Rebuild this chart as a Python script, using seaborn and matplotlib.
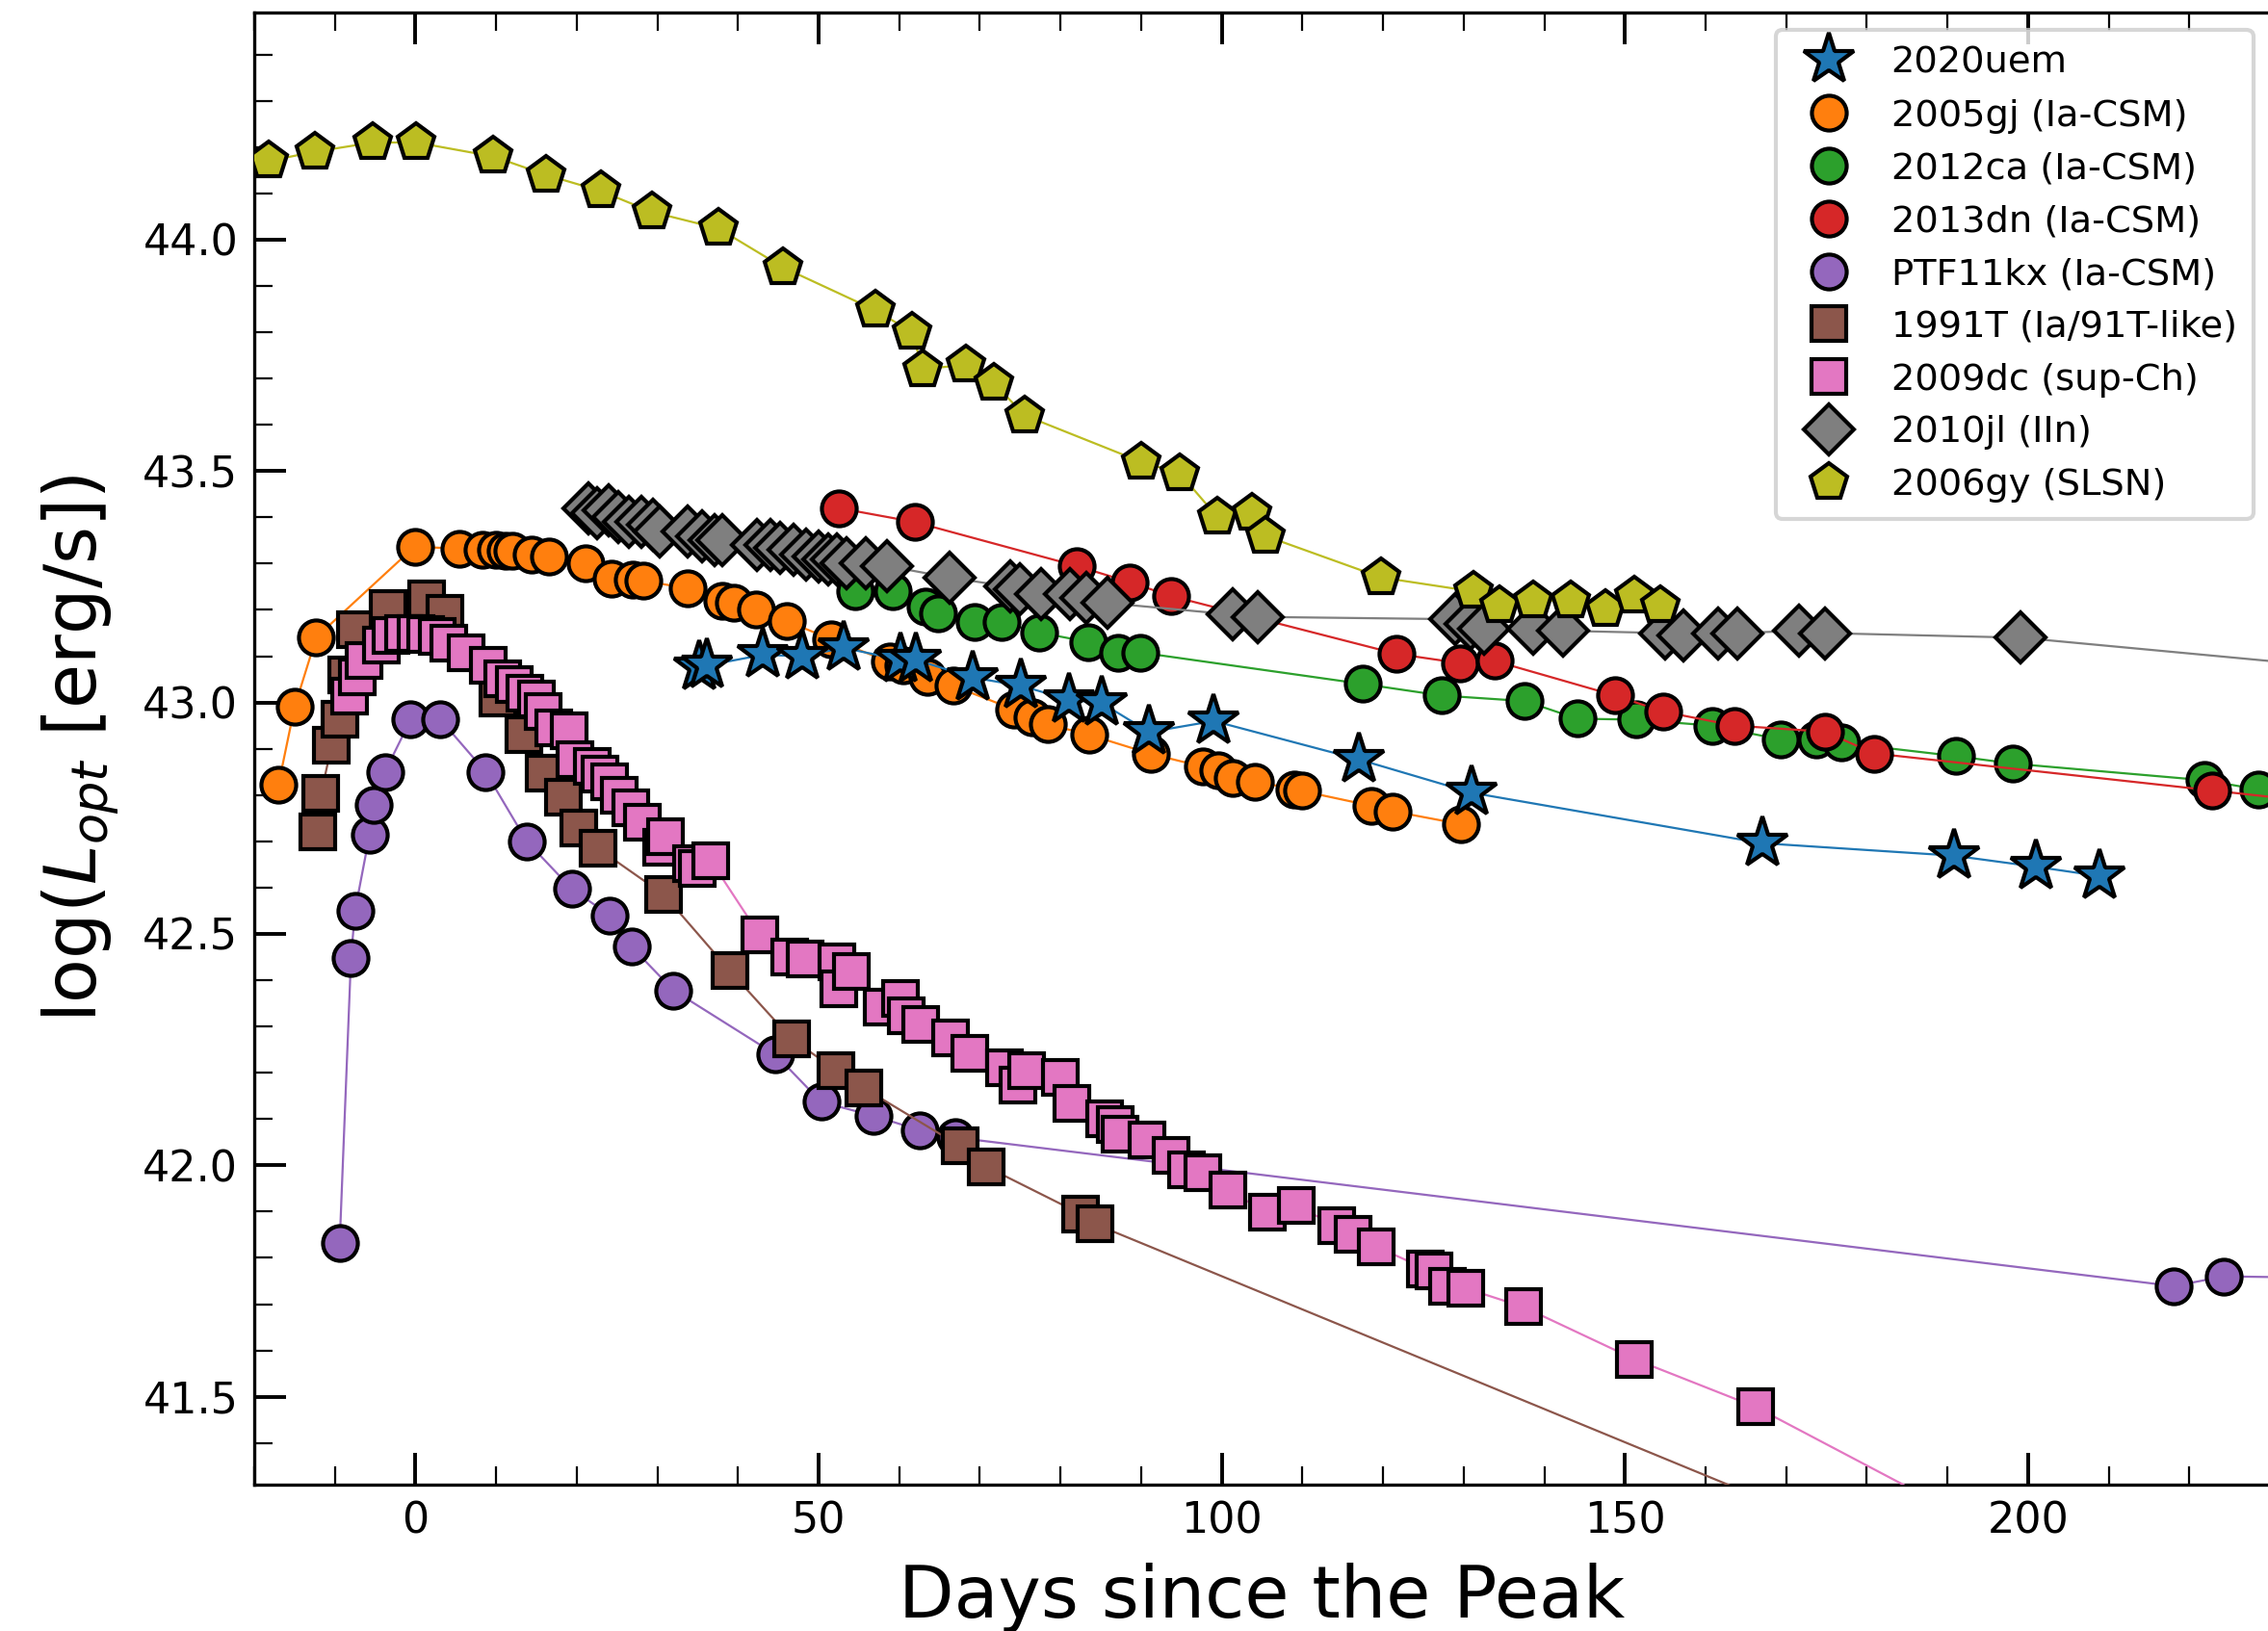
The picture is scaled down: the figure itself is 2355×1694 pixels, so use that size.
import matplotlib
matplotlib.use("Agg")
import matplotlib.pyplot as plt
from matplotlib.lines import Line2D
from matplotlib.ticker import MultipleLocator
import numpy as np
import pandas as pd
import seaborn as sns

# ---------------- data ----------------
sn2020uem_x = [35.2, 36.1, 43.1, 48.0, 53.1, 60.2, 62.1, 69.1, 75.1, 81.1, 85.1, 91.0, 99.0, 117.0, 131.0, 167.0, 190.8, 201.0, 208.9]
sn2020uem_y = [43.077, 43.08, 43.103, 43.10, 43.118, 43.092, 43.092, 43.054, 43.036, 43.006, 42.999, 42.936, 42.96, 42.877, 42.805, 42.696, 42.669, 42.645, 42.625]

sn2005gj_x = [-17.0, -15.0, -12.3, -0.1, 5.5, 8.3, 10.0, 11.2, 12.0, 14.4, 16.6, 21.1, 24.3, 26.9, 28.2, 33.7, 38.0, 39.5, 42.2, 46.0, 51.5, 58.8, 60.5, 63.5, 66.7, 74.2, 76.5, 78.4, 83.6, 91.2, 97.7, 99.6, 101.4, 104.1, 109.0, 109.9, 118.5, 121.2, 129.7]
sn2005gj_y = [42.822, 42.99, 43.141, 43.337, 43.332, 43.33, 43.33, 43.328, 43.327, 43.32, 43.315, 43.30, 43.268, 43.266, 43.263, 43.247, 43.22, 43.215, 43.2, 43.176, 43.137, 43.088, 43.08, 43.055, 43.036, 42.985, 42.967, 42.953, 42.93, 42.889, 42.861, 42.853, 42.837, 42.829, 42.813, 42.809, 42.777, 42.765, 42.737]

sn2012ca_x = [54.5, 59.2, 63.3, 64.8, 69.4, 72.7, 77.4, 83.4, 87.1, 89.9, 117.5, 127.3, 137.6, 144.1, 151.4, 160.8, 169.3, 173.8, 176.8, 191.1, 198.1, 221.9, 228.6]
sn2012ca_y = [43.24, 43.24, 43.207, 43.193, 43.174, 43.174, 43.151, 43.131, 43.108, 43.108, 43.04, 43.015, 43.003, 42.965, 42.963, 42.95, 42.92, 42.92, 42.913, 42.884, 42.868, 42.832, 42.812]

sn2013dn_x = [52.5, 61.9, 82.0, 88.6, 93.7, 121.7, 129.6, 133.8, 148.8, 154.8, 163.6, 174.8, 180.9, 222.8, 240.0]
sn2013dn_y = [43.42, 43.39, 43.295, 43.26, 43.23, 43.105, 43.085, 43.09, 43.015, 42.98, 42.95, 42.937, 42.89, 42.81, 42.777]

ptf11kx_x = [-9.4, -8.0, -7.5, -5.7, -5.2, -3.8, -0.6, 3.1, 8.7, 13.8, 19.4, 24.1, 26.8, 32.0, 44.6, 50.3, 56.8, 62.5, 67.0, 218.1, 224.3, 245.0]
ptf11kx_y = [41.833, 42.448, 42.55, 42.714, 42.778, 42.85, 42.963, 42.963, 42.85, 42.70, 42.597, 42.54, 42.472, 42.378, 42.24, 42.137, 42.107, 42.076, 42.06, 41.739, 41.76, 41.755]

sn1991T_x = [-12.15, -11.7, -10.4, -9.4, -8.5, -7.4, -3.4, 1.4, 3.7, 10.2, 13.5, 16.0, 18.3, 20.3, 22.6, 30.8, 39.0, 46.6, 52.2, 55.6, 67.5, 70.8, 82.5, 84.3, 200.0]
sn1991T_y = [42.72, 42.804, 42.907, 42.963, 43.06, 43.157, 43.204, 43.224, 43.193, 43.01, 42.93, 42.847, 42.796, 42.728, 42.685, 42.585, 42.42, 42.274, 42.205, 42.167, 42.042, 41.997, 41.895, 41.873, 41.043]

sn2009dc_x = [-8.2, -7.2, -6.4, -4.2, -3.0, -1.45, 0.1, 1.3, 2.7, 4.1, 6.3, 9.05, 10.8, 12.2, 13.6, 15.0, 15.8, 17.2, 19.0, 19.75, 21.9, 22.9, 24.1, 25.3, 26.7, 28.1, 30.5, 31.05, 34.2, 35.0, 36.6, 42.7, 46.4, 48.3, 52.3, 52.5, 54.0, 57.9, 60.2, 60.9, 62.6, 66.4, 68.8, 73.0, 74.7, 75.8, 80.0, 81.4, 85.5, 86.8, 87.4, 90.7, 93.7, 95.6, 97.7, 100.7, 105.6, 109.2, 114.2, 116.3, 119.2, 125.3, 126.3, 128.0, 130.3, 137.4, 151.2, 166.2, 200.0]
sn2009dc_y = [43.014, 43.056, 43.09, 43.125, 43.145, 43.149, 43.149, 43.146, 43.142, 43.128, 43.108, 43.08, 43.052, 43.038, 43.021, 43.007, 42.98, 42.945, 42.938, 42.876, 42.862, 42.845, 42.828, 42.80, 42.773, 42.742, 42.687, 42.71, 42.652, 42.642, 42.659, 42.497, 42.449, 42.445, 42.44, 42.382, 42.419, 42.341, 42.36, 42.323, 42.304, 42.275, 42.241, 42.211, 42.174, 42.204, 42.19, 42.133, 42.1, 42.088, 42.067, 42.054, 42.021, 41.991, 41.984, 41.947, 41.898, 41.913, 41.869, 41.85, 41.824, 41.776, 41.772, 41.738, 41.734, 41.694, 41.581, 41.478, 41.168]

sn2010jl_x = [21.4, 22.5, 23.9, 25.2, 26.5, 28.0, 29.5, 30.3, 33.7, 35.5, 37.1, 38.0, 42.3, 44.0, 45.2, 46.9, 48.5, 50.0, 51.2, 52.3, 53.4, 55.9, 58.5, 66.2, 73.8, 75.0, 77.6, 81.2, 83.2, 85.8, 101.3, 104.5, 128.9, 130.9, 132.5, 138.6, 142.3, 155.0, 157.2, 161.5, 164.0, 171.6, 174.8, 199.1, 250.0]
sn2010jl_y = [43.42, 43.41, 43.415, 43.40, 43.39, 43.39, 43.385, 43.37, 43.37, 43.36, 43.35, 43.35, 43.34, 43.34, 43.335, 43.33, 43.32, 43.315, 43.31, 43.31, 43.30, 43.30, 43.295, 43.27, 43.25, 43.245, 43.235, 43.235, 43.225, 43.215, 43.19, 43.185, 43.18, 43.17, 43.16, 43.16, 43.155, 43.15, 43.145, 43.15, 43.15, 43.155, 43.15, 43.14, 43.057]

sn2006gy_x = [-18.2, -12.5, -5.3, 0.1, 9.6, 16.2, 23.0, 29.3, 37.6, 45.6, 57.1, 61.6, 62.9, 68.3, 71.7, 75.6, 90.0, 94.8, 99.5, 103.8, 105.4, 119.8, 131.2, 134.5, 138.6, 143.3, 147.6, 151.2, 154.4]
sn2006gy_y = [44.17, 44.19, 44.21, 44.21, 44.18, 44.14, 44.105, 44.06, 44.024, 43.94, 43.847, 43.80, 43.72, 43.73, 43.69, 43.62, 43.52, 43.495, 43.40, 43.41, 43.36, 43.27, 43.24, 43.21, 43.22, 43.22, 43.20, 43.23, 43.21]

labels = ["2020uem", "2005gj (Ia-CSM)", "2012ca (Ia-CSM)", "2013dn (Ia-CSM)",
          "PTF11kx (Ia-CSM)", "1991T (Ia/91T-like)", "2009dc (sup-Ch)",
          "2010jl (IIn)", "2006gy (SLSN)"]
xs = [sn2020uem_x, sn2005gj_x, sn2012ca_x, sn2013dn_x, ptf11kx_x, sn1991T_x, sn2009dc_x, sn2010jl_x, sn2006gy_x]
ys = [sn2020uem_y, sn2005gj_y, sn2012ca_y, sn2013dn_y, ptf11kx_y, sn1991T_y, sn2009dc_y, sn2010jl_y, sn2006gy_y]

# ---------------- style ----------------
colors = ["#1f77b4", "#ff7f0e", "#2ca02c", "#d62728", "#9467bd",
          "#8c564b", "#e377c2", "#7f7f7f", "#bcbd22"]
markers = ["*", "o", "o", "o", "o", "s", "s", "D", "p"]
msizes = [20, 13, 13, 13, 13, 13, 13, 13, 14.5]
zorders = [12, 3, 4, 5, 6, 7, 8, 9, 10]

sns.set_style("ticks")
plt.rcParams["font.family"] = ["DejaVu Sans"]
plt.rcParams.update({"text.color": "black", "axes.labelcolor": "black",
                     "xtick.color": "black", "ytick.color": "black",
                     "axes.edgecolor": "black"})

fig = plt.figure(figsize=(2355 / 200, 1694 / 200), dpi=200)
ax = fig.add_axes([264 / 2355, 1 - 1542 / 1694, (2357 - 264) / 2355, (1542 - 13.4) / 1694])

for i in range(len(labels)):
    df = pd.DataFrame({"x": xs[i], "y": ys[i]})
    sns.lineplot(data=df, x="x", y="y", ax=ax, sort=False, estimator=None,
                 color=colors[i], lw=0.8, marker=markers[i], markersize=msizes[i],
                 markerfacecolor=colors[i], markeredgecolor="k",
                 markeredgewidth=1.5, zorder=zorders[i], legend=False)

ax.set_xlim(-20, 230)
ax.set_ylim(41.31, 44.49)
ax.xaxis.set_major_locator(MultipleLocator(50))
ax.xaxis.set_minor_locator(MultipleLocator(10))
ax.yaxis.set_major_locator(MultipleLocator(0.5))
ax.yaxis.set_minor_locator(MultipleLocator(0.1))
ax.tick_params(which="both", direction="in", top=True, right=False, labelsize=16, pad=6,
               colors="black")
ax.tick_params(which="major", length=12, width=1.4)
ax.tick_params(which="minor", length=7, width=0.8)
for s in ["left", "bottom", "top"]:
    ax.spines[s].set_linewidth(1.2)
    ax.spines[s].set_color("black")
ax.spines["right"].set_visible(False)

ax.set_xlabel("Days since the Peak", fontsize=27, labelpad=7.5, color="black")
ax.set_ylabel(r"log($L_{opt}$ [erg/s])", fontsize=27, labelpad=8, color="black")

handles = [Line2D([], [], linestyle="none", marker=markers[i], markersize=msizes[i],
                  markerfacecolor=colors[i], markeredgecolor="k", markeredgewidth=1.5)
           for i in range(len(labels))]
leg = ax.legend(handles, labels, loc="upper right", fontsize=13.8, labelspacing=0.49,
                handletextpad=0.68, borderpad=0.45,
                frameon=True, borderaxespad=0.45)
leg.get_frame().set_linewidth(1.5)
for t in leg.get_texts():
    t.set_color("black")

fig.savefig("out.png", dpi=200)
